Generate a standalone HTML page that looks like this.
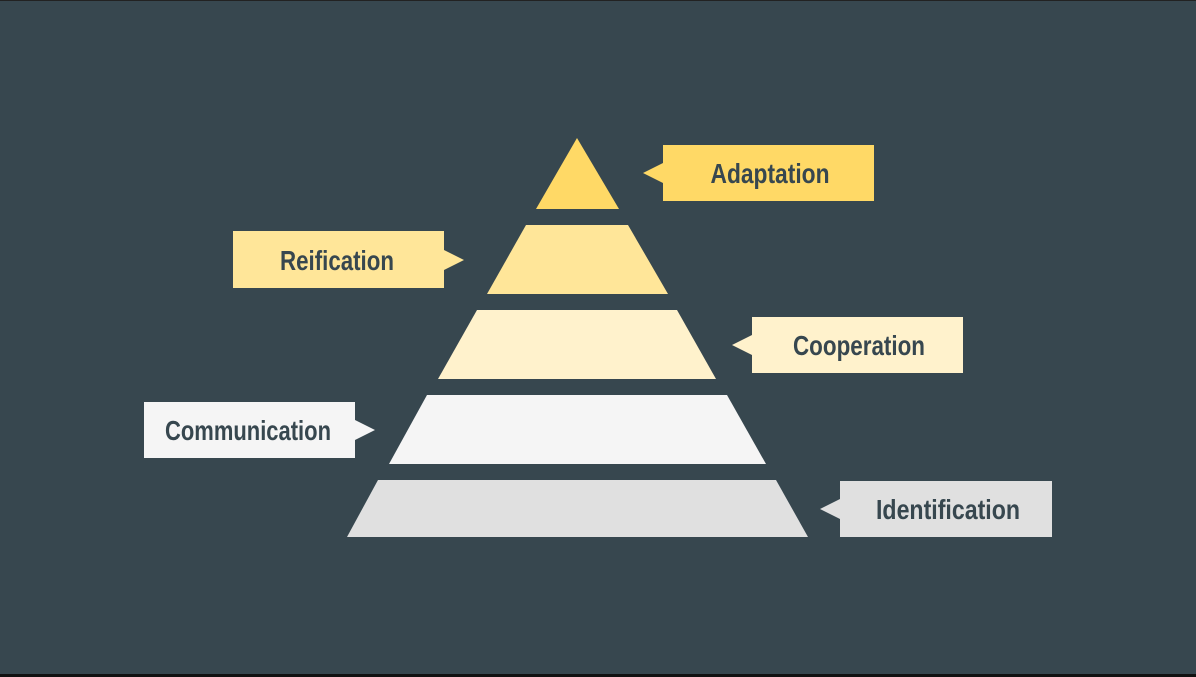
<!DOCTYPE html>
<html><head><meta charset="utf-8"><style>
html,body{margin:0;padding:0;background:#37474f;}
svg{display:block}
text{font-family:"Liberation Sans",sans-serif;font-weight:bold;font-size:28px;fill:#37474f;}
</style></head><body>
<svg width="1196" height="677" viewBox="0 0 1196 677" xmlns="http://www.w3.org/2000/svg">
<rect width="1196" height="677" fill="#37474f"/>
<rect x="0" y="674" width="1196" height="3" fill="#111"/>
<rect x="0" y="0" width="1196" height="1" fill="#222"/>
<polygon points="577,138 619,209 536,209" fill="#ffd966"/>
<polygon points="526,225 628,225 668,294 487,294" fill="#ffe699"/>
<polygon points="477,310 677,310 716,379 438,379" fill="#fff2cc"/>
<polygon points="427,395 727,395 766,464 389,464" fill="#f5f5f5"/>
<polygon points="378,480 776,480 808,537 347,537" fill="#e0e0e0"/>
<polygon points="663,145 874,145 874,201 663,201 663,183 643,173 663,163" fill="#ffd966"/>
<text x="770" y="183" text-anchor="middle" textLength="119" lengthAdjust="spacingAndGlyphs">Adaptation</text>
<polygon points="233,231 444,231 444,250 464,260 444,270 444,288 233,288" fill="#ffe699"/>
<text x="337" y="270" text-anchor="middle" textLength="114" lengthAdjust="spacingAndGlyphs">Reification</text>
<polygon points="752,317 963,317 963,373 752,373 752,355 732,345 752,335" fill="#fff2cc"/>
<text x="859" y="355" text-anchor="middle" textLength="132" lengthAdjust="spacingAndGlyphs">Cooperation</text>
<polygon points="144,402 355,402 355,420 375,430 355,440 355,458 144,458" fill="#f5f5f5"/>
<text x="248" y="440" text-anchor="middle" textLength="166" lengthAdjust="spacingAndGlyphs">Communication</text>
<polygon points="840,481 1052,481 1052,537 840,537 840,519 820,509 840,499" fill="#e0e0e0"/>
<text x="948" y="519" text-anchor="middle" textLength="144" lengthAdjust="spacingAndGlyphs">Identification</text>
</svg>
</body></html>
